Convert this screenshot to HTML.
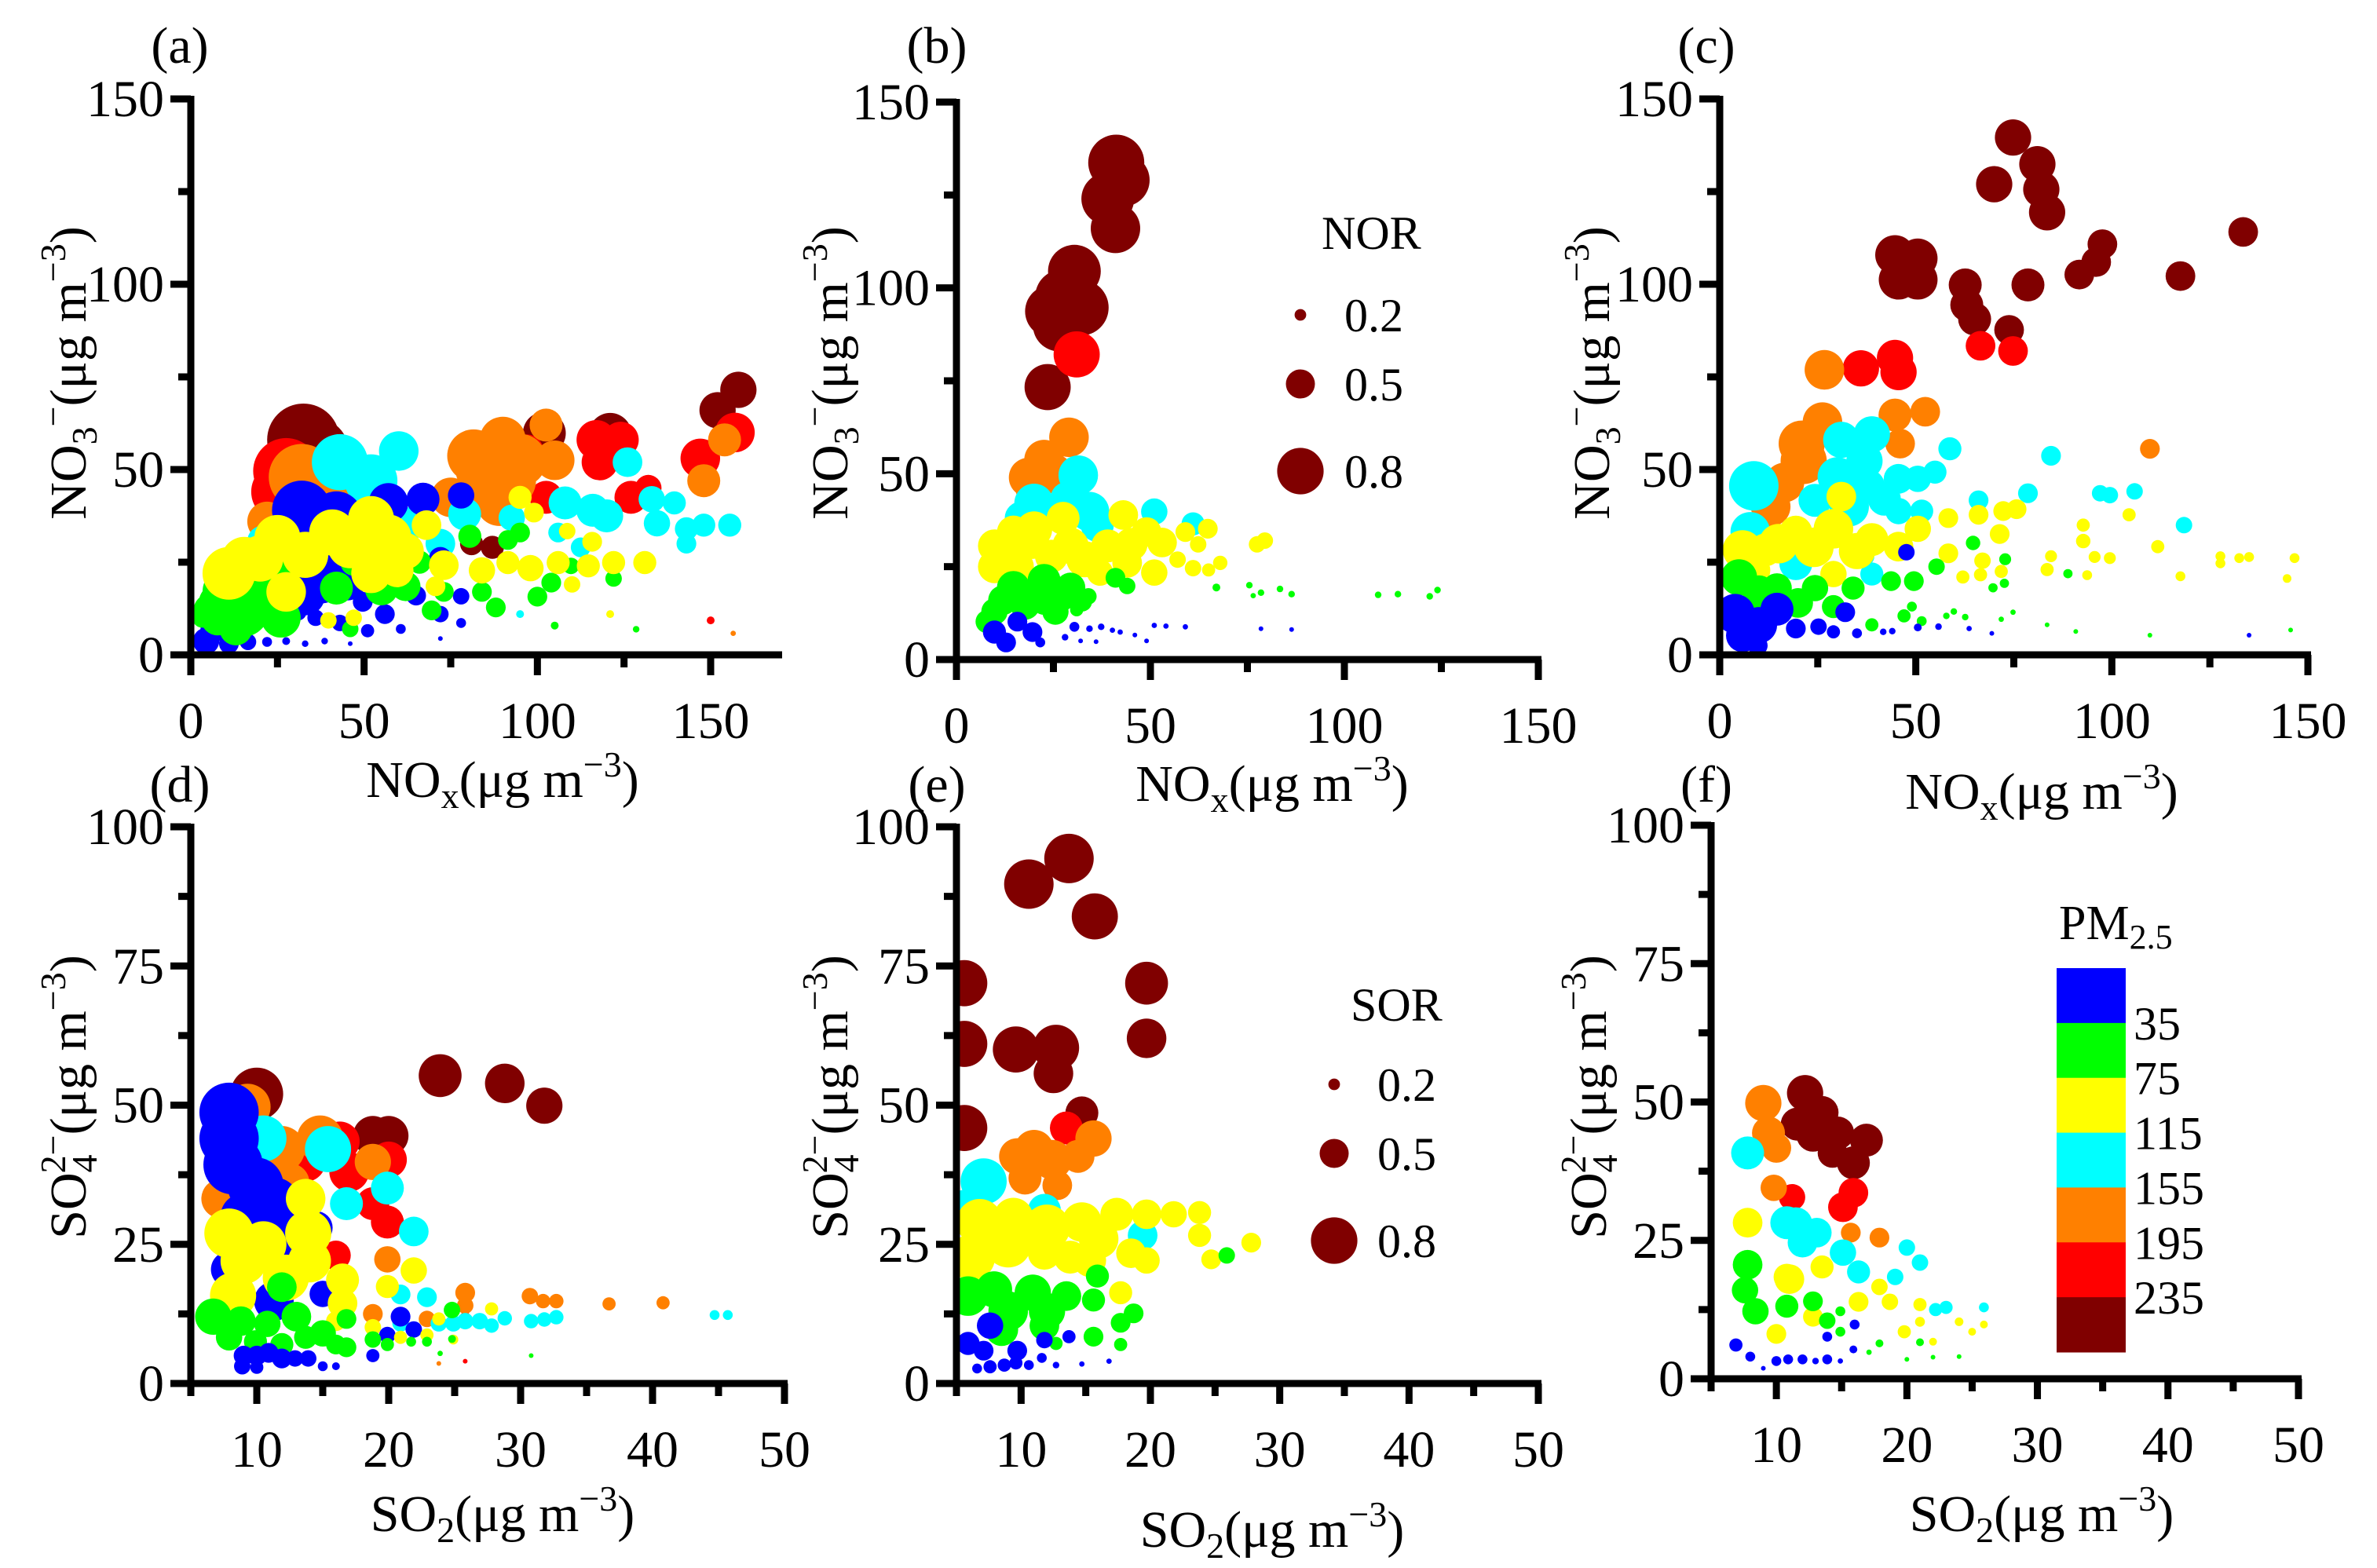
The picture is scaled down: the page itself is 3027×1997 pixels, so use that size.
<!DOCTYPE html>
<html><head><meta charset="utf-8">
<style>
html,body{margin:0;padding:0;background:#fff;}
svg, svg text{font-family:"Liberation Serif","DejaVu Serif",serif;}
</style></head>
<body>
<svg id="fig" width="3027" height="1992" viewBox="0 0 3027 1992" font-family="Liberation Serif, DejaVu Serif, serif" xmlns="http://www.w3.org/2000/svg"></svg>
<script>
// ---- DATA: [x, y, ratio(NOR/SOR), pm-class 0..6] ----
const pmColors = ["#0000ff","#00ff00","#ffff00","#00ffff","#ff8000","#ff0000","#800000"];
const pmBreaks = ["35","75","115","155","195","235"];
const legendRatios = [0.2,0.5,0.8];
const legendRatioLabels = ["0.2","0.5","0.8"];
const nitrateTicks = [0,50,100,150];
const noxTicks = [0,50,100,150];
const sulfateTicks = [0,25,50,75,100];
const so2Ticks = [10,20,30,40,50];

const ptsA = [
[32.5,58,1.1,6],[158,71.5,0.55,6],[152,66,0.55,6],[102,59.8,0.65,6],[121,59.5,0.65,6],[81,30,0.35,6],[87,29,0.35,6],[36,55,1.0,6],
[157,60,0.6,5],[147,53,0.6,5],[117,58,0.6,5],[118,52,0.55,5],[124,58,0.55,5],[127,42.5,0.5,5],[132,45,0.4,5],[102.5,42.5,0.5,5],[97,55,0.5,5],[27.5,49.6,1.0,5],[26,44,0.9,5],[150,9.3,0.12,5],[30,40,0.8,5],
[156.5,5.8,0.08,4],[32,48,1.0,4],[37.5,43,0.9,4],[22,36,0.6,4],[81.6,53.7,0.8,4],[90,58,0.7,4],[95,52.5,0.8,4],[86,46,0.8,4],[89,41,0.7,4],[105,52.5,0.6,4],[102.5,62,0.5,4],[75,42.5,0.6,4],[148,47,0.5,4],[154,58,0.5,4],[58,41,0.5,4],[84,50,0.8,4],[92,47,0.8,4],
[43,52,0.85,3],[52,47,0.8,3],[60,55,0.6,3],[126,52,0.45,3],[108,41,0.5,3],[116,39,0.5,3],[120,37.5,0.5,3],[133,42,0.4,3],[139.5,41,0.35,3],[134.5,35.5,0.4,3],[143,34,0.35,3],[148,35,0.35,3],[155.5,35,0.35,3],[143,30,0.3,3],[112.5,29,0.3,3],[95,11,0.12,3],[21,30.5,0.5,3],[79,38,0.5,3],[92.6,37,0.4,3],[106,33,0.3,3],[65,36,0.5,3],[72,30,0.45,3],
[32,39,0.9,0],[42,37,0.8,0],[57,41,0.6,0],[67,42,0.5,0],[78,43,0.4,0],[37.5,21,0.8,0],[33,16,0.6,0],[63,29,0.35,0],[72,26,0.35,0],[78,15.8,0.25,0],[72,11,0.25,0],[78,8.6,0.15,0],[65,16,0.3,0],[49.6,14.3,0.3,0],[56,11,0.3,0],[31,11.5,0.25,0],[36,10,0.25,0],[43,8.6,0.25,0],[51,6.5,0.2,0],[60.6,7,0.15,0],[4.4,3.7,0.4,0],[11,3,0.3,0],[16.5,3.5,0.25,0],[22,3.5,0.15,0],[27.5,3.7,0.12,0],[33,3,0.1,0],[38.6,3.7,0.1,0],[46,3,0.07,0],[72,4.4,0.06,0],[6.6,7,0.4,0],[38,28,0.8,0],[45,20,0.6,0],[28,25,0.6,0],
[7.7,9.7,0.5,1],[11,17,0.8,1],[20,15,0.8,1],[22,23,0.8,1],[13,7,0.5,1],[42,18,0.5,1],[47,24.9,0.4,1],[46,7,0.25,1],[55,17.8,0.5,1],[62,18.5,0.45,1],[66,25,0.35,1],[69.5,12,0.3,1],[73,17,0.3,1],[80.5,32,0.35,1],[84,17,0.3,1],[88,12.8,0.3,1],[95,33,0.3,1],[91.5,31,0.3,1],[100,15.7,0.3,1],[104,19.5,0.3,1],[109.7,24,0.25,1],[122,20.6,0.25,1],[105,7.9,0.12,1],[128.5,6.9,0.1,1],[5.5,12,0.5,1],[3.3,10,0.3,1],[15,12,0.8,1],[26,10,0.6,1],[8,14,0.6,1],[18,20,0.7,1],
[11,22,0.8,2],[25,31.5,0.7,2],[15.4,25.6,0.7,2],[33,27,0.7,2],[40.8,33,0.7,2],[52,36.6,0.7,2],[46,29.6,0.7,2],[57,31.6,0.7,2],[52,22,0.6,2],[59.5,22.7,0.5,2],[68,35,0.45,2],[73,24.2,0.45,2],[84,22.8,0.4,2],[91.5,24.9,0.35,2],[98,23.4,0.4,2],[106,24.9,0.35,2],[114.7,24,0.35,2],[122,24.9,0.35,2],[131,24.9,0.35,2],[95,42.5,0.35,2],[99,38.4,0.3,2],[108.6,33.4,0.25,2],[115.8,30.5,0.3,2],[110,19,0.25,2],[121,11,0.12,2],[70.6,18.5,0.3,2],[39.7,9.3,0.25,2],[47,10,0.25,2],[27.5,17,0.6,2],[20,26,0.7,2],[62,28,0.55,2]
];
const ptsB = [
[41.2,133.7,0.85,6],[43,129,0.8,6],[39,124,0.8,6],[41,116,0.75,6],[30.4,104.5,0.8,6],[27.5,97.5,0.85,6],[32,94.7,0.85,6],[24.5,93.7,0.8,6],[26.5,90,0.8,6],[23.5,73.3,0.7,6],
[31,82.1,0.7,5],
[29,59.8,0.6,4],[22.6,53.8,0.6,4],[18.6,49,0.6,4],[19.6,45.4,0.5,4],[25,50,0.6,4],
[31.4,49.6,0.6,3],[51,39.8,0.4,3],[61,36.5,0.35,3],[16.7,38.1,0.5,3],[34.3,39.8,0.6,3],[22.6,39,0.5,3],[36.3,36.1,0.5,3],[28.5,43.4,0.5,3],[20,42,0.6,3],
[43,38.9,0.45,2],[27.5,38,0.5,2],[14.7,34.3,0.5,2],[9.8,30.6,0.5,2],[9.8,25,0.5,2],[19.6,31.5,0.5,2],[29.4,30.6,0.55,2],[39,30.6,0.5,2],[49,34.3,0.45,2],[53,31.5,0.45,2],[44,26,0.45,2],[51,23.4,0.4,2],[59,34.3,0.3,2],[64.8,35.2,0.3,2],[62.3,31,0.25,2],[57,26.9,0.25,2],[61,24.6,0.25,2],[65,24.1,0.2,2],[68,26,0.22,2],[77.5,31,0.25,2],[79.5,32,0.25,2],[37,23.4,0.4,2],[24.5,27.8,0.5,2],[15.7,25,0.5,2],[12,28,0.55,2],[20,35,0.55,2],[33,27,0.55,2],[45,31,0.5,2],
[14.7,19.4,0.5,1],[22.6,21.3,0.5,1],[29.4,19.4,0.45,1],[9.8,12.9,0.4,1],[17.7,14.7,0.45,1],[25.5,12.9,0.4,1],[32.4,15.6,0.3,1],[34,17,0.25,1],[41,22,0.3,1],[44,19.8,0.25,1],[31,13.4,0.2,1],[67,19.4,0.12,1],[75.5,20,0.1,1],[78.5,18,0.1,1],[83.4,19,0.1,1],[86.4,17.6,0.1,1],[108.7,17.4,0.1,1],[113.8,17.6,0.1,1],[122,17,0.1,1],[124,18.7,0.1,1],[76.5,17.2,0.08,1],[7.9,10.2,0.35,1],[22.6,15.6,0.4,1],[12,16,0.45,1],[19,17,0.5,1],[27,17,0.45,1],
[15.7,10.2,0.3,0],[9.8,7.4,0.35,0],[19.6,7.4,0.3,0],[12.8,4.6,0.3,0],[21.6,4.6,0.15,0],[28,6,0.1,0],[30.4,8.8,0.15,0],[34.3,8.3,0.1,0],[37.3,8.8,0.1,0],[40.2,7.9,0.08,0],[42.2,7.4,0.08,0],[46,6.6,0.05,0],[51,9.2,0.08,0],[54,9,0.08,0],[59,8.8,0.08,0],[78.5,8.3,0.05,0],[86.4,8.1,0.05,0],[32,5,0.06,0],[36,4.8,0.05,0],[49,5,0.04,0]
];
const ptsC = [
[74.8,139.6,0.55,6],[81,132.4,0.55,6],[70,127,0.55,6],[82,125.6,0.55,6],[83.5,119.4,0.55,6],[44.7,107.9,0.6,6],[50.5,107,0.6,6],[45.6,101.2,0.6,6],[50.5,101.2,0.6,6],[62.6,99.8,0.5,6],[63,94.4,0.5,6],[65,90.6,0.5,6],[73.8,87.7,0.45,6],[78.6,99.8,0.5,6],[97.6,110.8,0.45,6],[96,106,0.45,6],[91.7,102.6,0.45,6],[117.5,102.2,0.45,6],[133.5,114.1,0.45,6],
[66.5,83.4,0.45,5],[74.8,82,0.45,5],[36,77.3,0.55,5],[44.7,80.1,0.55,5],[45.6,76.3,0.55,5],
[26.7,76.9,0.6,4],[44.7,64.7,0.5,4],[52.4,65.6,0.45,4],[26.2,62.8,0.6,4],[20.9,57,0.7,4],[21.4,52.3,0.7,4],[16.5,46.5,0.6,4],[46,57,0.45,4],[109.7,55.6,0.3,4],[13,40,0.6,4],
[8.7,45.6,0.75,3],[38.8,59.5,0.55,3],[31,58,0.55,3],[36.9,52.3,0.55,3],[37.9,45.6,0.5,3],[45.6,47.5,0.45,3],[50.5,47.5,0.4,3],[54.9,49.3,0.35,3],[58.7,55.6,0.35,3],[45.6,38.8,0.4,3],[51.5,38.8,0.35,3],[24.3,41.7,0.5,3],[7.8,33.2,0.6,3],[66,41.7,0.3,3],[78.6,43.6,0.3,3],[84.5,53.7,0.3,3],[97,43.6,0.25,3],[99.5,43.1,0.25,3],[105.8,44.1,0.25,3],[118.4,35,0.25,3],[19.4,24.6,0.5,3],[38.8,21.8,0.35,3],[36.9,26.6,0.3,3],[30,48,0.6,3],[33,40,0.6,3],[42,42,0.5,3],
[31,42.7,0.45,2],[29,34,0.6,2],[19.4,33.1,0.5,2],[5.8,28.3,0.6,2],[11.6,28.3,0.5,2],[38.8,31.1,0.5,2],[45.6,29.2,0.45,2],[50.5,34,0.4,2],[58.3,36.9,0.3,2],[66,37.8,0.3,2],[72.3,38.8,0.3,2],[75.7,39.3,0.3,2],[71.4,32.6,0.3,2],[58.3,27.4,0.3,2],[67,25.4,0.25,2],[92.7,35,0.2,2],[92.7,30.7,0.22,2],[104.4,37.8,0.2,2],[111.7,29.2,0.2,2],[84.5,26.6,0.18,2],[83.5,23,0.2,2],[95.6,26.4,0.18,2],[99.5,26.1,0.18,2],[93.7,21.5,0.15,2],[117.5,21.2,0.15,2],[127.7,26.6,0.15,2],[127.7,24.7,0.15,2],[132.5,26.1,0.15,2],[135,26.4,0.15,2],[146.6,26.1,0.15,2],[144.7,20.6,0.13,2],[62,21,0.2,2],[66.5,21.6,0.2,2],[71.8,22.5,0.2,2],[29,21.8,0.4,2],[8.7,22.8,0.5,2],[15,30,0.6,2],[24,29,0.6,2],[35,28,0.55,2],
[4.9,20.9,0.55,1],[14.6,18,0.45,1],[24.3,18,0.4,1],[34,18,0.35,1],[43.7,19.9,0.3,1],[49.5,19.9,0.3,1],[55.3,23.8,0.25,1],[64.6,30.2,0.22,1],[72.8,25.8,0.18,1],[72.6,19.3,0.14,1],[69.7,18.1,0.14,1],[88.8,21.9,0.14,1],[49,13,0.15,1],[47,10.5,0.2,1],[51.5,9.1,0.15,1],[57.8,10.5,0.1,1],[59.7,11.7,0.1,1],[62.6,10.2,0.1,1],[71.8,9.6,0.08,1],[74.8,11.5,0.08,1],[38.8,8.1,0.2,1],[83.5,8.1,0.05,1],[90.8,6.3,0.04,1],[109.7,5.3,0.03,1],[145.6,6.7,0.03,1],[29,13,0.35,1],[9.7,13,0.4,1],[20,14,0.45,1],[10,17,0.5,1],
[3.9,11.1,0.6,0],[14.6,12.3,0.5,0],[5.8,5.2,0.5,0],[19.4,7.1,0.3,0],[25.2,7.6,0.25,0],[32,11.5,0.3,0],[47.6,27.7,0.25,0],[29,6.2,0.2,0],[35,5.8,0.15,0],[41.7,6.2,0.1,0],[44,6.4,0.1,0],[50.5,7.4,0.12,0],[55.8,7.6,0.1,0],[63.6,7.1,0.08,0],[69.4,5.8,0.06,0],[135,5.3,0.03,0],[9.7,2.5,0.3,0],[10,8,0.55,0]
];
const ptsD = [
[10,52,0.8,6],[23.9,55.3,0.65,6],[28.8,53.9,0.6,6],[31.8,49.9,0.55,6],[18.8,44.5,0.6,6],[20,44.5,0.6,6],
[16.3,43.5,0.6,5],[20,40.2,0.55,5],[18.8,32.3,0.5,5],[19.9,29,0.5,5],[16,23,0.45,5],[13.7,39.8,0.6,5],[25.8,12,0.15,5],[25.8,4,0.06,5],[17,38,0.6,5],
[9.3,49.7,0.7,4],[11.9,42.1,0.7,4],[14.8,44,0.7,4],[18.8,39.8,0.55,4],[7.3,33.2,0.6,4],[19.9,22.3,0.4,4],[25.8,16.3,0.3,4],[25.8,14,0.25,4],[18.8,12.5,0.3,4],[22.9,11.6,0.25,4],[30.7,15.7,0.25,4],[31.7,14.8,0.22,4],[32.7,14.8,0.22,4],[36.7,14.3,0.2,4],[40.8,14.5,0.2,4],[23.8,3.6,0.05,4],[12.5,36,0.6,4],
[10.5,44,0.7,3],[15.4,42.1,0.7,3],[16.8,32.3,0.5,3],[19.9,35.1,0.5,3],[21.9,27.3,0.45,3],[20.9,16,0.3,3],[22.9,15.5,0.3,3],[23.8,10.8,0.25,3],[24.9,10.8,0.25,3],[25.8,11.2,0.25,3],[26.9,11.2,0.25,3],[27.8,10.4,0.22,3],[28.8,11.7,0.22,3],[30.8,11.2,0.22,3],[31.8,11.5,0.22,3],[32.7,11.9,0.22,3],[44.7,12.3,0.15,3],[45.7,12.3,0.15,3],[20.9,10.8,0.25,3],
[7.9,48.7,0.9,0],[7.9,44,0.9,0],[8.2,39.3,0.9,0],[9.9,35.6,0.85,0],[11.3,32.3,0.8,0],[14.5,28,0.5,0],[7.9,20.5,0.55,0],[12.8,21.4,0.6,0],[15,16.1,0.4,0],[11.3,14.8,0.6,0],[20.9,12,0.3,0],[21.9,9.7,0.25,0],[19.9,8.7,0.25,0],[12,28,0.7,0],[9,30,0.7,0],
[7.9,27,0.75,2],[10.5,25,0.7,2],[13.9,27,0.7,2],[13.7,33.2,0.6,2],[8.2,15.8,0.7,2],[12.2,19,0.7,2],[16.5,18.6,0.5,2],[16.5,14.4,0.45,2],[21.9,20.3,0.4,2],[19.9,17.4,0.35,2],[18.8,10.1,0.25,2],[20.9,8.3,0.2,2],[22.9,8.7,0.2,2],[24.9,7.9,0.15,2],[27.8,13.4,0.2,2],[23.8,11.6,0.2,2],[16,11.2,0.3,2],[9,22,0.7,2],[14,22,0.65,2],
[6.7,12,0.55,1],[8.8,11.2,0.45,1],[10.8,10.7,0.4,1],[11.9,17.3,0.45,1],[13.7,8.3,0.35,1],[16,7,0.3,1],[16.8,6.5,0.3,1],[16.8,11.6,0.3,1],[18.8,7.9,0.25,1],[19.9,7,0.2,1],[21.7,7.5,0.15,1],[22.9,7.5,0.15,1],[24.8,13.2,0.25,1],[24.8,8,0.12,1],[23.9,5.4,0.08,1],[30.8,5,0.06,1],[11.9,7,0.35,1],[9.9,7.5,0.35,1],[7.9,8.3,0.4,1],[13,12,0.45,1],[15,9,0.4,1],
[9,5,0.3,0],[10,5,0.3,0],[10.9,5.5,0.3,0],[11.9,4.5,0.3,0],[12.9,4.5,0.25,0],[13.9,4.5,0.25,0],[15,3.1,0.15,0],[16,3.1,0.12,0],[18.8,5,0.2,0],[8.9,3.1,0.25,0],[10,2.9,0.2,0]
];
const ptsE = [
[13.7,94.3,0.75,6],[10.6,89.7,0.75,6],[15.7,83.9,0.7,6],[5.6,71.9,0.7,6],[19.7,71.9,0.65,6],[5.6,61,0.7,6],[19.7,62,0.6,6],[9.6,60,0.7,6],[12.7,60.3,0.7,6],[12.5,55.7,0.6,6],[5.6,45.9,0.7,6],[14.7,48.6,0.5,6],
[13.5,45.9,0.5,5],
[15.6,44,0.55,4],[9.7,40.8,0.55,4],[12.4,40.2,0.6,4],[14.4,40.8,0.5,4],[12.8,35.6,0.45,4],[10.3,36.9,0.5,4],[11,42,0.6,4],
[7.1,36.3,0.7,3],[11.8,31.1,0.5,3],[19.4,26.6,0.45,3],[5.6,31.8,0.5,3],
[6.8,29,0.7,2],[9.4,29.8,0.6,2],[6.2,22.7,0.7,2],[14.7,29,0.6,2],[17.4,30.4,0.5,2],[19.7,30.4,0.45,2],[21.8,30.4,0.4,2],[23.8,30.7,0.35,2],[23.8,26.6,0.35,2],[27.8,25.3,0.3,2],[24.7,22.3,0.3,2],[11.8,23.4,0.5,2],[15.3,22.1,0.5,2],[18.5,23.4,0.45,2],[19.7,22.1,0.4,2],[17.7,16.3,0.35,2],[7.4,25.3,0.6,2],[13.8,22.7,0.5,2],[9,25,0.7,2],[12,28,0.7,2],[16,26,0.6,2],
[5.9,15.7,0.6,1],[7.9,16.9,0.55,1],[10.9,16.3,0.55,1],[13.5,15.7,0.45,1],[15.9,19.3,0.35,1],[15.6,15,0.35,1],[15.6,8.4,0.3,1],[17.7,10.9,0.3,1],[18.7,12.6,0.3,1],[17.7,7,0.2,1],[25.9,23,0.25,1],[8.5,9.7,0.5,1],[11.8,10.4,0.45,1],[12.7,7.2,0.2,1],[9,13,0.6,1],[12,13,0.55,1],
[7.6,10.4,0.4,0],[5.9,7.2,0.35,0],[7.1,5.9,0.3,0],[9.7,5.9,0.3,0],[11.8,7.8,0.25,0],[13.7,8.4,0.2,0],[6.6,2.7,0.15,0],[7.6,3,0.2,0],[8.7,3.3,0.2,0],[9.6,3.7,0.2,0],[10.6,3.3,0.15,0],[11.6,4.6,0.15,0],[12.7,3.3,0.1,0],[14.7,3.5,0.08,0],[16.8,4,0.08,0]
];
const ptsF = [
[12.2,51.6,0.55,6],[13.5,48.1,0.5,6],[14.7,44.4,0.5,6],[11.6,46,0.5,6],[16.9,43.1,0.5,6],[15.9,39,0.5,6],[14.3,40.8,0.45,6],[12.8,44,0.5,6],
[15.9,33.6,0.45,5],[15.1,31,0.45,5],[11.2,32.8,0.4,5],
[9,49.8,0.55,4],[9.4,44.4,0.5,4],[10,41.7,0.45,4],[9.8,34.5,0.4,4],[17.9,25.5,0.3,4],[15.7,26.4,0.3,4],
[7.8,40.8,0.5,3],[10.8,28.2,0.5,3],[13.1,26.4,0.45,3],[15.1,22.8,0.4,3],[16.3,19.3,0.35,3],[19.1,18.4,0.25,3],[20,23.7,0.25,3],[21,21,0.25,3],[22.2,12.5,0.2,3],[23,12.9,0.2,3],[25.9,12.9,0.15,3],[12,24.6,0.45,3],[11.5,28,0.5,3],
[7.8,28.2,0.45,2],[10.8,18.4,0.4,2],[13.5,20.2,0.35,2],[16.3,13.9,0.3,2],[18.7,13.9,0.25,2],[21,13.4,0.2,2],[10,8.1,0.3,2],[12.8,11.2,0.3,2],[19.8,8.5,0.2,2],[21,10.3,0.15,2],[22,6.7,0.12,2],[24,10.3,0.13,2],[25,8.5,0.12,2],[25.9,9.8,0.12,2],[17.9,16.6,0.25,2],[11,18,0.45,2],
[7.8,20.6,0.45,1],[7.6,16,0.4,1],[8.4,12.2,0.4,1],[10.8,13.1,0.35,1],[12.8,14,0.3,1],[13.9,10.5,0.25,1],[14.9,8.5,0.15,1],[14.9,12.2,0.15,1],[17.9,6.4,0.12,1],[17.1,4.8,0.08,1],[20,3.5,0.05,1],[22,3.9,0.04,1],[24,4,0.04,1],[21,6.6,0.12,1],
[6.9,6.1,0.2,0],[8,4,0.15,0],[9,1.9,0.06,0],[10,3.2,0.15,0],[10.9,3.5,0.15,0],[12,3.5,0.15,0],[13,3.2,0.1,0],[13.9,3.5,0.15,0],[14.9,3.2,0.08,0],[15.9,5.3,0.12,0],[16,9.8,0.15,0],[13.9,7.6,0.15,0]
];

// ---- LAYOUT ----
const NS = "http://www.w3.org/2000/svg";
const svg = document.getElementById("fig");
const RSCALE = 42;
const FONT = "Liberation Serif, DejaVu Serif, serif";
function mk(tag, attrs, parent){
  const e = document.createElementNS(NS, tag);
  for (const k in attrs) e.setAttribute(k, attrs[k]);
  if (tag === "text") e.setAttribute("font-family", FONT);
  (parent||svg).appendChild(e);
  return e;
}
const panels = [
 {id:"a", pts:ptsA, px0:243, px1:905, dx0:0, dx1:150, axEnd:996, py0:834, py1:126, dy1:150, xt:noxTicks, xminor:[25,75,125], yt:nitrateTicks, yminor:[25,75,125], ion:"NO3", gas:"NOx", lab:[229,58], xtit:[640,995], ytit:[87,475]},
 {id:"b", pts:ptsB, px0:1218, px1:1959, dx0:0, dx1:150, axEnd:1963, py0:840, py1:130, dy1:150, xt:noxTicks, xminor:[25,75,125], yt:nitrateTicks, yminor:[25,75,125], ion:"NO3", gas:"NOx", lab:[1193,58], xtit:[1620,1000], ytit:[1057,475]},
 {id:"c", pts:ptsC, px0:2190, px1:2939, dx0:0, dx1:150, axEnd:2943, py0:834, py1:126, dy1:150, xt:noxTicks, xminor:[25,75,125], yt:nitrateTicks, yminor:[25,75,125], ion:"NO3", gas:"NOx", lab:[2173,58], xtit:[2600,1010], ytit:[2027,475]},
 {id:"d", pts:ptsD, px0:243, px1:999, dx0:5, dx1:50, axEnd:1003, py0:1762, py1:1053, dy1:100, xt:so2Ticks, xminor:[5,15,25,35,45], yt:sulfateTicks, yminor:[12.5,37.5,62.5,87.5], ion:"SO4", gas:"SO2", lab:[229,999], xtit:[640,1930], ytit:[87,1397]},
 {id:"e", pts:ptsE, px0:1218, px1:1959, dx0:5, dx1:50, axEnd:1963, py0:1762, py1:1053, dy1:100, xt:so2Ticks, xminor:[5,15,25,35,45], yt:sulfateTicks, yminor:[12.5,37.5,62.5,87.5], ion:"SO4", gas:"SO2", lab:[1193,999], xtit:[1620,1950], ytit:[1057,1397]},
 {id:"f", pts:ptsF, px0:2179, px1:2927, dx0:5, dx1:50, axEnd:2931, py0:1756, py1:1051, dy1:100, xt:so2Ticks, xminor:[5,15,25,35,45], yt:sulfateTicks, yminor:[12.5,37.5,62.5,87.5], ion:"SO4", gas:"SO2", lab:[2173,999], xtit:[2600,1930], ytit:[2023,1397]}
];
const defs = mk("defs", {});

panels.forEach(p => {
  const g = mk("g", {});
  
  
  const sx = v => p.px0 + (v - p.dx0) * (p.px1 - p.px0) / (p.dx1 - p.dx0);
  const sy = v => p.py0 - v * (p.py0 - p.py1) / p.dy1;
  const cp = mk("clipPath", {id:"clip-"+p.id}, defs);
  mk("rect", {x:p.px0, y:p.py1-60, width:p.axEnd-p.px0, height:p.py0-p.py1+60}, cp);
  const pg = mk("g", {"clip-path":"url(#clip-"+p.id+")"}, g);
  
  
  p.pts.forEach(d => {
    const c = mk("circle", {cx:sx(d[0]).toFixed(1), cy:sy(d[1]).toFixed(1), r:Math.max(3, d[2]*RSCALE).toFixed(1), fill:pmColors[d[3]]}, pg);
    
    
  });
  const ax = mk("g", {stroke:"#000", "stroke-width":9, fill:"none"}, g);
  
  
  mk("line", {x1:p.px0, y1:p.py1-4, x2:p.px0, y2:p.py0+4}, ax);
  mk("line", {x1:p.px0-4, y1:p.py0, x2:p.axEnd, y2:p.py0}, ax);
  p.xt.forEach(v => mk("line", {x1:sx(v), y1:p.py0, x2:sx(v), y2:p.py0+26}, ax));
  p.xminor.forEach(v => mk("line", {x1:sx(v), y1:p.py0, x2:sx(v), y2:p.py0+16}, ax));
  p.yt.forEach(v => mk("line", {x1:p.px0, y1:sy(v), x2:p.px0-26, y2:sy(v)}, ax));
  p.yminor.forEach(v => mk("line", {x1:p.px0, y1:sy(v), x2:p.px0-16, y2:sy(v)}, ax));
  p.xt.forEach(v => {
    const t = mk("text", {x:sx(v), y:p.py0+106, "font-size":66, "text-anchor":"middle"}, g);
    t.textContent = v;
    
    
  });
  p.yt.forEach(v => {
    const t = mk("text", {x:p.px0-34, y:sy(v)+22, "font-size":66, "text-anchor":"end"}, g);
    t.textContent = v;
    
    
  });
  const pl = mk("text", {x:p.lab[0], y:p.lab[1]+22, "font-size":66, "text-anchor":"middle"}, g);
  pl.textContent = "(" + p.id + ")";
  
  
  const xt = mk("text", {x:p.xtit[0], y:p.xtit[1]+20, "font-size":66, "text-anchor":"middle"}, g);
  
  
  if (p.gas === "NOx") {
    xt.innerHTML = 'NO<tspan font-size="46" dy="14">x</tspan><tspan dy="-14">(μg m</tspan><tspan font-size="46" dy="-26">−3</tspan><tspan dy="26">)</tspan>';
  } else {
    xt.innerHTML = 'SO<tspan font-size="46" dy="14">2</tspan><tspan dy="-14">(μg m</tspan><tspan font-size="46" dy="-26">−3</tspan><tspan dy="26">)</tspan>';
  }
  const yt = mk("text", {x:0, y:0, "font-size":66, "text-anchor":"middle", transform:"translate("+(p.ytit[0]+22)+","+p.ytit[1]+") rotate(-90)"}, g);
  
  
  if (p.ion === "NO3") {
    yt.innerHTML = 'NO<tspan font-size="46" dy="14">3</tspan><tspan font-size="46" dy="-40">−</tspan><tspan dy="26">(μg m</tspan><tspan font-size="46" dy="-26">−3</tspan><tspan dy="26">)</tspan>';
  } else {
    yt.innerHTML = 'SO<tspan font-size="46" dy="14">4</tspan><tspan font-size="46" dy="-40" dx="-24">2−</tspan><tspan dy="26">(μg m</tspan><tspan font-size="46" dy="-26">−3</tspan><tspan dy="26">)</tspan>';
  }
});

function sizeLegend(title, tx, ty, dotX, dotYs, textX, key){
  const g = mk("g", {});
  
  
  const t = mk("text", {x:tx, y:ty, "font-size":60}, g);
  t.textContent = title;
  
  
  legendRatios.forEach((r, i) => {
    const c = mk("circle", {cx:dotX, cy:dotYs[i], r:r*37, fill:pmColors[6]}, g);
    
    
    const l = mk("text", {x:textX, y:dotYs[i]+21, "font-size":60}, g);
    l.textContent = legendRatioLabels[i];
    
    
  });
}
sizeLegend("NOR", 1683, 317, 1656, [401,489,600], 1712, "nor");
sizeLegend("SOR", 1720, 1300, 1699, [1381,1469,1580], 1754, "sor");

const cb = mk("g", {});


const cbX = 2619, cbW = 88, cbTop = 1233, cbH = 489;
const bandH = cbH / pmColors.length;
pmColors.forEach((col, i) => {
  const r = mk("rect", {x:cbX, y:cbTop + i*bandH, width:cbW, height:bandH+0.5, fill:col}, cb);
  
  
});
pmBreaks.forEach((b, i) => {
  const t = mk("text", {x:cbX+cbW+10, y:cbTop + (i+1)*bandH + 21, "font-size":60}, cb);
  t.textContent = b;
  
  
});
const cbt = mk("text", {x:2622, y:1196, "font-size":62, "text-anchor":"start"}, cb);
cbt.innerHTML = 'PM<tspan font-size="44" dy="12">2.5</tspan>';


</script>
</body></html>
